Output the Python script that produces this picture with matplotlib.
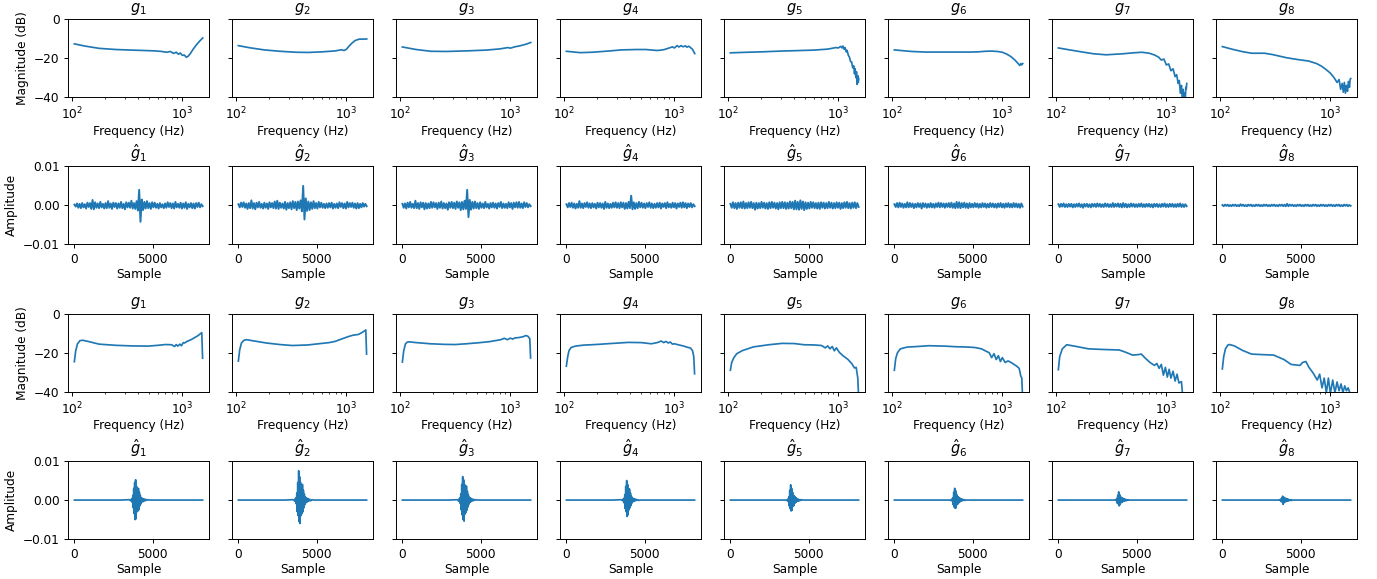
import numpy as np
import matplotlib
matplotlib.use('Agg')
import matplotlib.pyplot as plt

# ---- row 1 : magnitude responses (Hz, dB) ----
mag1_f_g1 = [105, 130, 176, 250, 350, 450, 565, 650, 720, 780, 830, 880, 920, 960, 1000, 1040, 1090, 1130, 1170, 1250, 1350, 1450, 1530]
mag1_db_g1 = [-12.7, -13.8, -15, -15.6, -15.9, -16.1, -16.3, -16.6, -17, -16.6, -17.6, -17, -18, -17.4, -18.6, -18.4, -19.6, -19, -18, -15.5, -13, -11, -9.7]
mag1_f_g2 = [105, 130, 180, 250, 350, 450, 600, 800, 900, 950, 1000, 1060, 1130, 1200, 1300, 1530]
mag1_db_g2 = [-13.6, -14.6, -15.8, -16.5, -17, -17.1, -16.8, -16.3, -15.7, -16.1, -15.5, -13.8, -12.2, -11, -10.3, -10.2]
mag1_f_g3 = [105, 140, 190, 260, 400, 600, 800, 950, 1000, 1100, 1200, 1300, 1400, 1530]
mag1_db_g3 = [-14.3, -15.6, -16.5, -16.6, -16.3, -15.9, -15.3, -14.6, -14.9, -14.2, -13.8, -13.3, -12.8, -12]
mag1_f_g4 = [105, 140, 180, 250, 330, 450, 550, 700, 800, 900, 960, 1000, 1060, 1100, 1150, 1200, 1260, 1300, 1350, 1400, 1460, 1530]
mag1_db_g4 = [-16.5, -17.2, -17, -16.4, -15.8, -15.6, -15.6, -16.1, -15.7, -14.8, -14.2, -14.8, -13.6, -14.3, -13.6, -14.2, -13.7, -14.4, -13.9, -14.6, -15.5, -17.7]
mag1_f_g5 = [105, 150, 200, 300, 400, 600, 800, 950, 1000, 1050, 1080, 1100, 1130, 1150, 1180, 1200, 1230, 1260, 1290, 1320, 1350, 1380, 1400, 1420, 1440, 1460, 1480, 1500, 1515, 1530]
mag1_db_g5 = [-17.3, -17, -16.8, -16.4, -16.2, -15.9, -15.4, -14.6, -14.8, -14.0, -14.8, -13.8, -15.5, -14.6, -16.8, -16, -18.5, -19.5, -21.8, -22, -25, -24, -28, -25.5, -30, -27, -33.5, -29, -32.5, -30.5]
mag1_f_g6 = [105, 150, 200, 300, 400, 500, 600, 700, 800, 900, 1000, 1100, 1200, 1300, 1350, 1400, 1440, 1470, 1500, 1530]
mag1_db_g6 = [-15.8, -16.6, -16.9, -16.9, -16.9, -16.9, -16.8, -16.5, -16.4, -16.6, -17, -18, -19.3, -21, -22, -23, -23.8, -22.8, -23.5, -22.8]
mag1_f_g7 = [105, 130, 170, 220, 285, 400, 500, 600, 700, 780, 850, 900, 950, 1000, 1050, 1100, 1150, 1200, 1240, 1280, 1310, 1340, 1370, 1400, 1420, 1440, 1460, 1480, 1500, 1515, 1530]
mag1_db_g7 = [-14.8, -15.7, -16.8, -17.8, -18.3, -17.8, -17.3, -17, -17.5, -18.4, -19.5, -21, -20.5, -23.5, -23, -26.5, -25.5, -29.5, -28.5, -33, -31.5, -38, -34, -42, -36, -41, -38, -44, -35, -36, -33]
mag1_f_g8 = [105, 130, 160, 193, 253, 300, 400, 500, 635, 750, 835, 920, 1000, 1080, 1150, 1200, 1240, 1280, 1310, 1340, 1370, 1400, 1430, 1460, 1490, 1510, 1530]
mag1_db_g8 = [-14.1, -15.5, -16.7, -17.5, -17.5, -18.2, -19.8, -20.7, -21.5, -22.8, -24.2, -26, -27.7, -30, -32.5, -31, -36, -33, -37.5, -32.5, -38, -34, -37, -32, -35, -31, -30.5]

# ---- row 2 : estimated impulse responses (units of 1e-4), evenly spread over 8192 samples ----
noise_g1 = [2, -3, 5, -6, 4, -7, 6, -5, 3, -8, 7, -4, 6, -9, 14, -10, 8, -6, 5, -7,
            9, -5, 4, -8, 6, -7, 11, -6, 5, -9, 7, -4, 6, -8, 5, -6, 9, -7, 4, -10,
            8, -5, 7, -6, 12, -8, 6, -9, 11, -13, 40, -42, 15, -12, 9, -8, 11, -7, 6, -9,
            8, -5, 7, -6, 4, -8, 6, -5, 3, -7, 5, -6, 8, -4, 6, -7, 5, -8, 9, -5,
            4, -6, 7, -8, 5, -6, 8, -9, 4, -5, 6, -7, 5, -8, 6, -4, 7, -5, 3, -2]
noise_g2 = [3, -5, 7, -4, 8, -6, 5, -9, 6, -7, 13, -8, 6, -10, 7, -5, 9, -6, 4, -8,
            7, -6, 5, -9, 8, -5, 6, -7, 10, -8, 12, -9, 7, -6, 5, -8, 9, -11, 6, -7,
            8, -10, 11, -7, 9, -12, 10, -8, 13, -15, 50, -36, 18, -14, 10, -12, 8, -9, 11, -7,
            6, -8, 9, -5, 7, -6, 4, -7, 5, -6, 6, -5, 7, -8, 4, -6, 5, -7, 8, -4,
            6, -7, 5, -8, 9, -5, 6, -4, 7, -6, 5, -8, 6, -7, 4, -5, 6, -3, 4, -2]
noise_g3 = [4, -6, 5, -8, 7, -5, 9, -6, 4, -7, 12, -7, 6, -9, 8, -5, 7, -10, 6, -8,
            5, -7, 9, -6, 8, -5, 6, -9, 7, -6, 10, -8, 6, -7, 5, -11, 8, -6, 9, -7,
            7, -9, 10, -6, 8, -12, 9, -10, 12, -9, 40, -30, 14, -11, 9, -8, 10, -7, 6, -9,
            8, -6, 5, -7, 9, -5, 4, -8, 6, -5, 7, -6, 5, -8, 6, -4, 9, -7, 5, -6,
            4, -7, 8, -5, 6, -9, 7, -5, 8, -6, 9, -6, 5, -7, 8, -4, 6, -5, 3, -2]
noise_g4 = [3, -5, 6, -4, 7, -6, 5, -8, 4, -6, 11, -6, 5, -7, 6, -4, 8, -6, 5, -7,
            6, -5, 4, -8, 7, -5, 6, -6, 5, -9, 9, -6, 5, -7, 4, -6, 7, -5, 8, -6,
            6, -7, 8, -5, 7, -9, 6, -8, 9, -7, 25, -10, 8, -9, 6, -7, 9, -5, 7, -6,
            5, -7, 6, -4, 8, -6, 5, -7, 4, -6, 6, -5, 7, -8, 5, -4, 6, -7, 8, -5,
            4, -6, 7, -5, 6, -8, 5, -4, 7, -6, 8, -5, 6, -7, 5, -4, 6, -5, 3, -2]
noise_g5 = [4, -6, 8, -7, 6, -9, 7, -6, 8, -7, 10, -8, 6, -7, 8, -6, 9, -7, 6, -11,
            7, -8, 6, -7, 9, -6, 7, -8, 6, -9, 8, -7, 9, -6, 7, -8, 6, -10, 8, -7,
            9, -7, 8, -9, 7, -8, 10, -7, 9, -10, 12, -10, 9, -11, 13, -9, 10, -12, 8, -9,
            7, -8, 9, -6, 8, -7, 6, -8, 7, -9, 8, -6, 7, -8, 6, -7, 9, -6, 7, -8,
            6, -7, 8, -6, 7, -9, 6, -7, 8, -6, 9, -7, 6, -8, 7, -6, 8, -7, 6, -4]
noise_g6 = [3, -4, 6, -5, 7, -4, 5, -6, 4, -5, 8, -5, 6, -4, 5, -7, 4, -5, 6, -4,
            5, -8, 6, -4, 5, -6, 4, -5, 6, -5, 4, -6, 5, -4, 7, -5, 6, -4, 5, -6,
            5, -4, 6, -5, 7, -6, 5, -7, 9, -6, 8, -7, 6, -5, 7, -6, 5, -7, 6, -5,
            4, -5, 6, -4, 5, -6, 4, -5, 6, -4, 5, -6, 4, -5, 6, -4, 5, -5, 4, -6,
            5, -4, 6, -5, 4, -6, 5, -4, 6, -5, 4, -5, 6, -4, 5, -5, 4, -6, 5, -3]
noise_g7 = [3, -4, 4, -3, 5, -4, 3, -4, 4, -3, 4, -5, 3, -4, 4, -3, 5, -4, 3, -6,
            4, -3, 4, -4, 3, -5, 4, -3, 4, -4, 5, -3, 4, -4, 3, -4, 5, -3, 4, -4,
            3, -4, 6, -4, 4, -3, 5, -4, 4, -5, 6, -4, 4, -5, 3, -4, 5, -3, 4, -4,
            3, -4, 4, -3, 5, -4, 3, -4, 4, -3, 4, -4, 3, -5, 4, -3, 4, -4, 3, -4,
            4, -3, 5, -4, 3, -4, 4, -3, 4, -4, 3, -4, 4, -3, 5, -4, 3, -4, 3, -2]
noise_g8 = [1, -2, 2, -1, 2, -2, 1, -2, 2, -1, 2, -2, 1, -2, 3, -1, 2, -2, 1, -2,
            2, -1, 2, -2, 1, -2, 2, -1, 2, -2, 1, -2, 2, -1, 2, -2, 1, -2, 2, -1,
            2, -2, 1, -2, 2, -1, 2, -2, 2, -2, 4, -2, 2, -1, 2, -2, 1, -2, 2, -1,
            2, -2, 1, -2, 2, -1, 2, -2, 1, -2, 2, -1, 2, -2, 1, -2, 2, -1, 2, -2,
            1, -2, 2, -1, 2, -2, 1, -2, 2, -1, 2, -2, 1, -2, 2, -1, 2, -2, 1, -1]

# ---- row 3 : magnitude responses of the modelled filters ----
mag2_f_g1 = [105, 108, 112, 118, 125, 140, 176, 250, 350, 490, 600, 700, 800, 850, 880, 910, 950, 980, 1020, 1050, 1100, 1200, 1380, 1500, 1525]
mag2_db_g1 = [-24.6, -19, -15.5, -13.8, -13.6, -14.2, -15.6, -16.2, -16.5, -16.6, -16.2, -15.8, -15.9, -16.8, -15.8, -16.6, -15.6, -16.4, -14.8, -15.0, -14.2, -13.3, -11.3, -9.7, -22.8]
mag2_f_g2 = [105, 108, 112, 118, 124, 140, 188, 250, 325, 450, 560, 700, 790, 900, 1045, 1150, 1290, 1400, 1500, 1525]
mag2_db_g2 = [-24.3, -18.5, -15, -13.6, -13.3, -13.8, -15, -15.8, -16.3, -16, -15.4, -14.8, -14.2, -13, -11.7, -11, -10.6, -9.5, -8.3, -20.7]
mag2_f_g3 = [105, 108, 112, 116, 120, 140, 188, 250, 315, 400, 510, 650, 820, 880, 940, 1000, 1050, 1100, 1200, 1300, 1380, 1440, 1500, 1525]
mag2_db_g3 = [-24.8, -19, -15.5, -14.6, -14.4, -14.8, -15.4, -15.7, -15.8, -15.4, -14.9, -14.3, -13.3, -12.6, -13.3, -12.5, -13, -12.4, -12.2, -11.8, -11.2, -11.5, -12.8, -22.7]
mag2_f_g4 = [105, 108, 111, 116, 127, 150, 192, 260, 382, 500, 618, 700, 760, 800, 840, 880, 920, 960, 1000, 1100, 1200, 1313, 1400, 1460, 1500, 1525]
mag2_db_g4 = [-26.9, -22, -18.9, -17.3, -16.6, -16.1, -15.8, -15.3, -14.7, -14.8, -15.4, -14.8, -14.0, -14.8, -14.2, -15.0, -14.5, -15.6, -15.4, -16, -16.5, -17.2, -17.6, -18.9, -22, -30.8]
mag2_f_g5 = [105, 108, 113, 120, 135, 170, 234, 309, 400, 488, 600, 705, 760, 800, 840, 880, 920, 960, 1020, 1100, 1220, 1320, 1400, 1450, 1500, 1530]
mag2_db_g5 = [-29, -25, -22.5, -20.5, -18.9, -17, -15.9, -15.2, -15.3, -15.9, -16, -16.3, -17.5, -16.5, -18, -16.8, -19, -17.5, -19.8, -21.5, -23.4, -25.5, -27.8, -27.5, -33, -44]
mag2_f_g6 = [105, 108, 112, 119, 137, 170, 216, 300, 374, 493, 560, 647, 700, 760, 800, 840, 880, 920, 960, 1000, 1060, 1127, 1200, 1350, 1420, 1470, 1500, 1530]
mag2_db_g6 = [-29, -23, -20, -18, -17.1, -16.8, -16.4, -16.6, -16.9, -17.1, -17.3, -18, -19, -20, -22.5, -20.5, -23.5, -21.5, -24.5, -22.5, -25, -24.2, -25, -26.9, -28, -32, -33, -45]
mag2_f_g7 = [105, 108, 114, 125, 150, 197, 260, 375, 430, 494, 550, 593, 650, 715, 780, 820, 860, 900, 940, 980, 1020, 1060, 1100, 1150, 1200, 1250, 1300, 1370, 1420]
mag2_db_g7 = [-28.7, -22, -18, -15.9, -16.7, -18, -18.3, -18.6, -19.8, -21.2, -21, -20.7, -23, -25.1, -26.5, -25.5, -28, -26, -31.5, -27.5, -32.5, -28.5, -33, -29.5, -34.5, -31, -35.5, -34.8, -45]
mag2_f_g8 = [105, 108, 112, 118, 122, 135, 160, 193, 250, 306, 380, 441, 530, 560, 600, 640, 700, 760, 800, 840, 880, 920, 960, 1000, 1050, 1100, 1150, 1200, 1250, 1300, 1350, 1400, 1450, 1500]
mag2_db_g8 = [-28.3, -22, -18, -16, -15.8, -16.5, -18.8, -20.7, -21, -21.2, -23.5, -26, -26.5, -25, -24.5, -27.5, -30.5, -34, -31, -38, -33, -40.5, -33, -41, -34, -40.5, -35, -39.5, -36, -40.5, -37, -39.5, -38, -40.5]

# ---- row 4 : modelled impulse responses (units of 1e-4) ----
burst_samples = [0, 3000, 3500, 3600, 3650, 3700, 3730, 3760, 3790, 3820, 3850, 3880, 3910, 3940, 3970, 4000, 4030, 4060,
                 4090, 4120, 4150, 4180, 4210, 4240, 4280, 4320, 4360, 4400, 4450, 4500, 4560, 4620, 4700, 4800, 5000, 8191]
burst_g1 = [0, 0, 1, -2, 3, -6, 12, -20, 30, -35, 45, -50, 52, -48, 35, -30, 25, -28, 30, -25, 20, -15, 12, -10, 6, -5, 4, -4, 3, -2, 2, -1, 1, 0, 0, 0]
burst_g2 = [0, 0, 1, -3, 5, -10, 18, -30, 45, -40, 75, -55, 60, -60, 45, -40, 35, -35, 40, -30, 25, -20, 15, -12, 8, -7, 5, -5, 4, -3, 2, -2, 1, 0, 0, 0]
burst_g3 = [0, 0, 1, -3, 5, -9, 16, -25, 40, -38, 60, -50, 52, -54, 40, -36, 30, -32, 36, -26, 22, -18, 14, -11, 7, -6, 5, -4, 3, -2, 2, -1, 1, 0, 0, 0]
burst_g4 = [0, 0, 1, -2, 4, -8, 14, -22, 35, -30, 50, -42, 40, -38, 30, -25, 28, -20, 18, -14, 10, -8, 6, -5, 4, -3, 3, -2, 2, -1, 1, -1, 0, 0, 0, 0]
burst_g5 = [0, 0, 0, -1, 2, -4, 8, -15, 25, -22, 39, -28, 30, -26, 20, -16, 12, -14, 10, -8, 7, -6, 5, -4, 3, -3, 2, -2, 1, -1, 1, 0, 0, 0, 0, 0]
burst_g6 = [0, 0, 0, -1, 2, -3, 6, -12, 20, -18, 30, -21, 24, -20, 15, -12, 10, -10, 8, -7, 6, -5, 4, -3, 3, -2, 2, -1, 1, -1, 0, 0, 0, 0, 0, 0]
burst_g7 = [0, 0, 0, 0, 1, -2, 4, -8, 12, -10, 21, -15, 14, -12, 9, -7, 6, -6, 5, -4, 4, -3, 3, -2, 2, -2, 1, -1, 1, 0, 0, 0, 0, 0, 0, 0]
burst_g8 = [0, 0, 0, 0, 1, -1, 2, -4, 6, -5, 10, -11, 8, -7, 6, -5, 4, -4, 4, -3, 3, -2, 2, -2, 1, -1, 1, -1, 0, 0, 0, 0, 0, 0, 0, 0]

n_samples = 8192
scale = 1e-4

mag1 = [(mag1_f_g1, mag1_db_g1), (mag1_f_g2, mag1_db_g2), (mag1_f_g3, mag1_db_g3), (mag1_f_g4, mag1_db_g4),
        (mag1_f_g5, mag1_db_g5), (mag1_f_g6, mag1_db_g6), (mag1_f_g7, mag1_db_g7), (mag1_f_g8, mag1_db_g8)]
mag2 = [(mag2_f_g1, mag2_db_g1), (mag2_f_g2, mag2_db_g2), (mag2_f_g3, mag2_db_g3), (mag2_f_g4, mag2_db_g4),
        (mag2_f_g5, mag2_db_g5), (mag2_f_g6, mag2_db_g6), (mag2_f_g7, mag2_db_g7), (mag2_f_g8, mag2_db_g8)]
noises = [noise_g1, noise_g2, noise_g3, noise_g4, noise_g5, noise_g6, noise_g7, noise_g8]
bursts = [burst_g1, burst_g2, burst_g3, burst_g4, burst_g5, burst_g6, burst_g7, burst_g8]

# the reference was rendered at a lower dpi than 100, so text and lines are a bit smaller
DPI = 87.5
fig, axes = plt.subplots(4, 8, sharey='row', figsize=(1377 / DPI, 579 / DPI), dpi=DPI)
fig.subplots_adjust(left=0.0494, right=0.9855, top=0.967, bottom=0.069, wspace=0.163, hspace=0.889)

for i in range(8):
    # magnitude rows
    for row, data in ((0, mag1), (2, mag2)):
        ax = axes[row, i]
        ax.plot(data[i][0], data[i][1], color='C0', lw=1.4)
        ax.set_xscale('log')
        ax.set_xlim(92, 1745)
        ax.set_ylim(-40, 0)
        ax.set_yticks([-40, -20, 0])
        ax.set_xlabel("Frequency (Hz)", labelpad=2)
        ax.set_title("$g_{%d}$" % (i + 1))

    ax = axes[1, i]
    y = np.array(noises[i]) * scale
    ax.plot(np.linspace(0, n_samples - 1, len(y)), y, color='C0', lw=1.6)
    ax.set_title(r"$\hat{g}_{%d}$" % (i + 1))

    ax = axes[3, i]
    ax.plot(burst_samples, np.array(bursts[i]) * scale, color='C0', lw=1.4)
    ax.set_title(r"$\hat{g}_{%d}$" % (i + 1))

    for row in (1, 3):
        ax = axes[row, i]
        ax.set_ylim(-0.01, 0.01)
        ax.set_yticks([-0.01, 0.0, 0.01])
        ax.set_xticks([0, 5000])
        ax.set_xlabel("Sample", labelpad=2)

axes[0, 0].set_ylabel("Magnitude (dB)")
axes[2, 0].set_ylabel("Magnitude (dB)")
axes[1, 0].set_ylabel("Amplitude")
axes[3, 0].set_ylabel("Amplitude")

plt.savefig("out.png", dpi=DPI)
